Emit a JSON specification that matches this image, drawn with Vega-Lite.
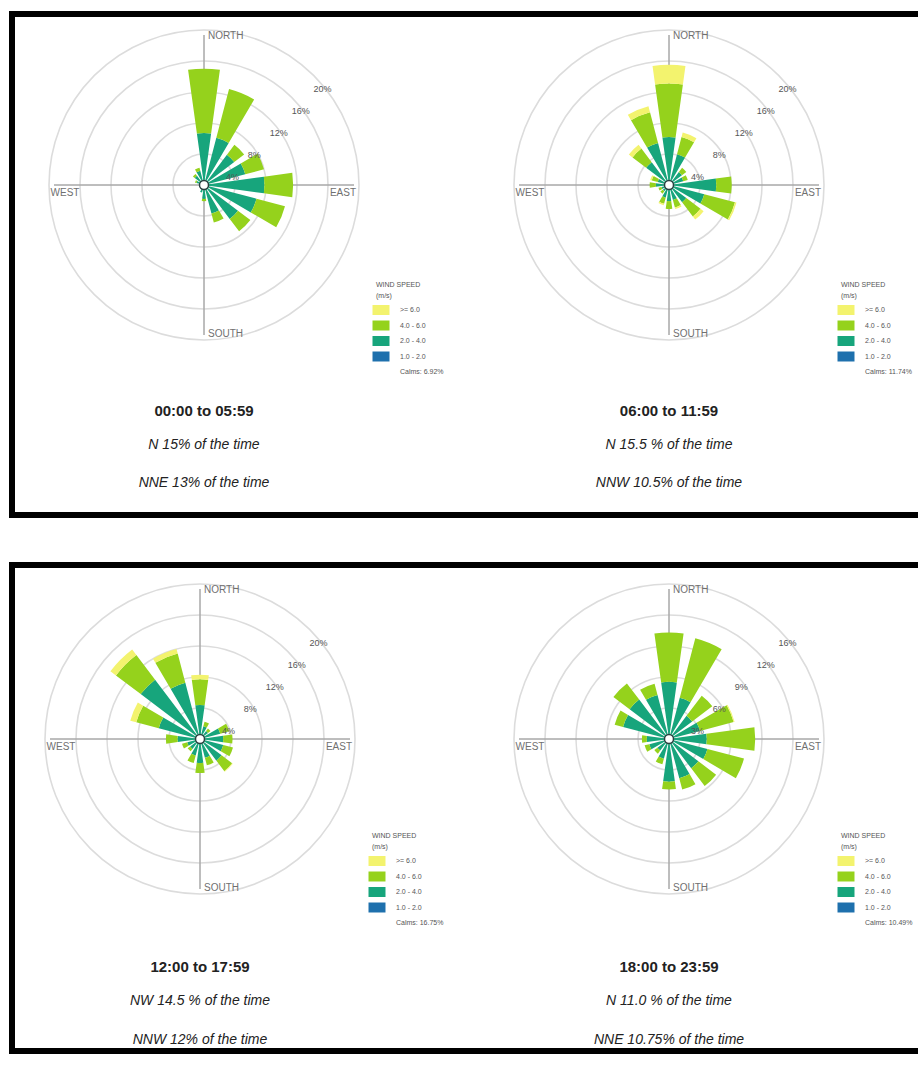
{
"$schema": "https://vega.github.io/schema/vega-lite/v6.json",
"background": "white",
"padding": {"left": 9, "top": 11, "right": 0, "bottom": 0},
"spacing": 44,
"datasets": {
"panels": [
{"p":"A","t":"00:00 to 05:59","sub":["N 15% of the time","NNE 13% of the time"]},
{"p":"B","t":"06:00 to 11:59","sub":["N 15.5 % of the time","NNW 10.5% of the time"]},
{"p":"C","t":"12:00 to 17:59","sub":["NW 14.5 % of the time","NNW 12% of the time"]},
{"p":"D","t":"18:00 to 23:59","sub":["N 11.0 % of the time","NNE 10.75% of the time"]}
],
"rings": [
{"p":"A","g":4,"lab":"4%"},{"p":"A","g":8,"lab":"8%"},{"p":"A","g":12,"lab":"12%"},{"p":"A","g":16,"lab":"16%"},{"p":"A","g":20,"lab":"20%"},
{"p":"B","g":4,"lab":"4%"},{"p":"B","g":8,"lab":"8%"},{"p":"B","g":12,"lab":"12%"},{"p":"B","g":16,"lab":"16%"},{"p":"B","g":20,"lab":"20%"},
{"p":"C","g":4,"lab":"4%"},{"p":"C","g":8,"lab":"8%"},{"p":"C","g":12,"lab":"12%"},{"p":"C","g":16,"lab":"16%"},{"p":"C","g":20,"lab":"20%"},
{"p":"D","g":3.2,"lab":"3%"},{"p":"D","g":6.4,"lab":"6%"},{"p":"D","g":9.6,"lab":"9%"},{"p":"D","g":12.8,"lab":"12%"},{"p":"D","g":16,"lab":"16%"}
],
"spokes": [
{"p":"A","deg":0,"name":"NORTH"},{"p":"A","deg":90,"name":"EAST"},{"p":"A","deg":180,"name":"SOUTH"},{"p":"A","deg":270,"name":"WEST"},
{"p":"B","deg":0,"name":"NORTH"},{"p":"B","deg":90,"name":"EAST"},{"p":"B","deg":180,"name":"SOUTH"},{"p":"B","deg":270,"name":"WEST"},
{"p":"C","deg":0,"name":"NORTH"},{"p":"C","deg":90,"name":"EAST"},{"p":"C","deg":180,"name":"SOUTH"},{"p":"C","deg":270,"name":"WEST"},
{"p":"D","deg":0,"name":"NORTH"},{"p":"D","deg":90,"name":"EAST"},{"p":"D","deg":180,"name":"SOUTH"},{"p":"D","deg":270,"name":"WEST"}
],
"wind": [
{"p":"A","d":"N","s":"1.0 - 2.0","v":0.3},{"p":"A","d":"N","s":"2.0 - 4.0","v":6.4},{"p":"A","d":"N","s":"4.0 - 6.0","v":8.3},
{"p":"A","d":"NNE","s":"1.0 - 2.0","v":0.3},{"p":"A","d":"NNE","s":"2.0 - 4.0","v":6.0},{"p":"A","d":"NNE","s":"4.0 - 6.0","v":6.5},
{"p":"A","d":"NE","s":"1.0 - 2.0","v":0.3},{"p":"A","d":"NE","s":"2.0 - 4.0","v":4.6},{"p":"A","d":"NE","s":"4.0 - 6.0","v":1.6},
{"p":"A","d":"ENE","s":"1.0 - 2.0","v":0.3},{"p":"A","d":"ENE","s":"2.0 - 4.0","v":5.2},{"p":"A","d":"ENE","s":"4.0 - 6.0","v":2.5},
{"p":"A","d":"E","s":"1.0 - 2.0","v":0.4},{"p":"A","d":"E","s":"2.0 - 4.0","v":7.4},{"p":"A","d":"E","s":"4.0 - 6.0","v":3.7},
{"p":"A","d":"ESE","s":"1.0 - 2.0","v":0.4},{"p":"A","d":"ESE","s":"2.0 - 4.0","v":6.6},{"p":"A","d":"ESE","s":"4.0 - 6.0","v":3.8},
{"p":"A","d":"SE","s":"1.0 - 2.0","v":0.3},{"p":"A","d":"SE","s":"2.0 - 4.0","v":5.2},{"p":"A","d":"SE","s":"4.0 - 6.0","v":2.0},
{"p":"A","d":"SSE","s":"1.0 - 2.0","v":0.3},{"p":"A","d":"SSE","s":"2.0 - 4.0","v":3.5},{"p":"A","d":"SSE","s":"4.0 - 6.0","v":1.2},
{"p":"A","d":"S","s":"1.0 - 2.0","v":0.3},{"p":"A","d":"S","s":"2.0 - 4.0","v":1.5},{"p":"A","d":"S","s":"4.0 - 6.0","v":0.3},
{"p":"A","d":"SSW","s":"1.0 - 2.0","v":0.2},{"p":"A","d":"SSW","s":"2.0 - 4.0","v":0.8},
{"p":"A","d":"SW","s":"1.0 - 2.0","v":0.2},{"p":"A","d":"SW","s":"2.0 - 4.0","v":0.4},
{"p":"A","d":"WSW","s":"1.0 - 2.0","v":0.2},{"p":"A","d":"WSW","s":"2.0 - 4.0","v":0.3},
{"p":"A","d":"W","s":"1.0 - 2.0","v":0.2},{"p":"A","d":"W","s":"2.0 - 4.0","v":0.4},
{"p":"A","d":"WNW","s":"1.0 - 2.0","v":0.2},{"p":"A","d":"WNW","s":"2.0 - 4.0","v":0.8},{"p":"A","d":"WNW","s":"4.0 - 6.0","v":0.2},
{"p":"A","d":"NW","s":"1.0 - 2.0","v":0.3},{"p":"A","d":"NW","s":"2.0 - 4.0","v":1.2},{"p":"A","d":"NW","s":"4.0 - 6.0","v":0.3},
{"p":"A","d":"NNW","s":"1.0 - 2.0","v":0.3},{"p":"A","d":"NNW","s":"2.0 - 4.0","v":1.6},{"p":"A","d":"NNW","s":"4.0 - 6.0","v":0.4},

{"p":"B","d":"N","s":"1.0 - 2.0","v":0.3},{"p":"B","d":"N","s":"2.0 - 4.0","v":5.9},{"p":"B","d":"N","s":"4.0 - 6.0","v":6.9},{"p":"B","d":"N","s":">= 6.0","v":2.4},
{"p":"B","d":"NNE","s":"1.0 - 2.0","v":0.3},{"p":"B","d":"NNE","s":"2.0 - 4.0","v":3.8},{"p":"B","d":"NNE","s":"4.0 - 6.0","v":2.3},{"p":"B","d":"NNE","s":">= 6.0","v":0.6},
{"p":"B","d":"NE","s":"1.0 - 2.0","v":0.3},{"p":"B","d":"NE","s":"2.0 - 4.0","v":1.8},{"p":"B","d":"NE","s":"4.0 - 6.0","v":0.7},
{"p":"B","d":"ENE","s":"1.0 - 2.0","v":0.3},{"p":"B","d":"ENE","s":"2.0 - 4.0","v":1.6},{"p":"B","d":"ENE","s":"4.0 - 6.0","v":0.6},
{"p":"B","d":"E","s":"1.0 - 2.0","v":0.3},{"p":"B","d":"E","s":"2.0 - 4.0","v":5.8},{"p":"B","d":"E","s":"4.0 - 6.0","v":2.0},
{"p":"B","d":"ESE","s":"1.0 - 2.0","v":0.3},{"p":"B","d":"ESE","s":"2.0 - 4.0","v":4.4},{"p":"B","d":"ESE","s":"4.0 - 6.0","v":4.1},{"p":"B","d":"ESE","s":">= 6.0","v":0.2},
{"p":"B","d":"SE","s":"1.0 - 2.0","v":0.3},{"p":"B","d":"SE","s":"2.0 - 4.0","v":2.5},{"p":"B","d":"SE","s":"4.0 - 6.0","v":2.3},{"p":"B","d":"SE","s":">= 6.0","v":0.5},
{"p":"B","d":"SSE","s":"1.0 - 2.0","v":0.3},{"p":"B","d":"SSE","s":"2.0 - 4.0","v":1.7},{"p":"B","d":"SSE","s":"4.0 - 6.0","v":1.0},{"p":"B","d":"SSE","s":">= 6.0","v":0.2},
{"p":"B","d":"S","s":"1.0 - 2.0","v":0.3},{"p":"B","d":"S","s":"2.0 - 4.0","v":1.8},{"p":"B","d":"S","s":"4.0 - 6.0","v":1.0},
{"p":"B","d":"SSW","s":"1.0 - 2.0","v":0.3},{"p":"B","d":"SSW","s":"2.0 - 4.0","v":1.4},{"p":"B","d":"SSW","s":"4.0 - 6.0","v":0.8},{"p":"B","d":"SSW","s":">= 6.0","v":0.2},
{"p":"B","d":"SW","s":"1.0 - 2.0","v":0.2},{"p":"B","d":"SW","s":"2.0 - 4.0","v":0.8},{"p":"B","d":"SW","s":"4.0 - 6.0","v":0.4},
{"p":"B","d":"WSW","s":"1.0 - 2.0","v":0.2},{"p":"B","d":"WSW","s":"2.0 - 4.0","v":0.8},{"p":"B","d":"WSW","s":"4.0 - 6.0","v":0.4},
{"p":"B","d":"W","s":"1.0 - 2.0","v":0.3},{"p":"B","d":"W","s":"2.0 - 4.0","v":1.4},{"p":"B","d":"W","s":"4.0 - 6.0","v":0.8},
{"p":"B","d":"WNW","s":"1.0 - 2.0","v":0.3},{"p":"B","d":"WNW","s":"2.0 - 4.0","v":1.2},{"p":"B","d":"WNW","s":"4.0 - 6.0","v":0.8},{"p":"B","d":"WNW","s":">= 6.0","v":0.2},
{"p":"B","d":"NW","s":"1.0 - 2.0","v":0.3},{"p":"B","d":"NW","s":"2.0 - 4.0","v":3.4},{"p":"B","d":"NW","s":"4.0 - 6.0","v":2.2},{"p":"B","d":"NW","s":">= 6.0","v":0.6},
{"p":"B","d":"NNW","s":"1.0 - 2.0","v":0.3},{"p":"B","d":"NNW","s":"2.0 - 4.0","v":5.3},{"p":"B","d":"NNW","s":"4.0 - 6.0","v":4.1},{"p":"B","d":"NNW","s":">= 6.0","v":0.8},

{"p":"C","d":"N","s":"1.0 - 2.0","v":0.3},{"p":"C","d":"N","s":"2.0 - 4.0","v":4.1},{"p":"C","d":"N","s":"4.0 - 6.0","v":3.3},{"p":"C","d":"N","s":">= 6.0","v":0.6},
{"p":"C","d":"NNE","s":"1.0 - 2.0","v":0.3},{"p":"C","d":"NNE","s":"2.0 - 4.0","v":1.4},{"p":"C","d":"NNE","s":"4.0 - 6.0","v":0.6},
{"p":"C","d":"NE","s":"1.0 - 2.0","v":0.3},{"p":"C","d":"NE","s":"2.0 - 4.0","v":1.0},{"p":"C","d":"NE","s":"4.0 - 6.0","v":0.4},
{"p":"C","d":"ENE","s":"1.0 - 2.0","v":0.3},{"p":"C","d":"ENE","s":"2.0 - 4.0","v":2.4},{"p":"C","d":"ENE","s":"4.0 - 6.0","v":1.2},
{"p":"C","d":"E","s":"1.0 - 2.0","v":0.3},{"p":"C","d":"E","s":"2.0 - 4.0","v":2.7},{"p":"C","d":"E","s":"4.0 - 6.0","v":1.2},
{"p":"C","d":"ESE","s":"1.0 - 2.0","v":0.3},{"p":"C","d":"ESE","s":"2.0 - 4.0","v":2.8},{"p":"C","d":"ESE","s":"4.0 - 6.0","v":1.3},
{"p":"C","d":"SE","s":"1.0 - 2.0","v":0.3},{"p":"C","d":"SE","s":"2.0 - 4.0","v":3.2},{"p":"C","d":"SE","s":"4.0 - 6.0","v":1.7},{"p":"C","d":"SE","s":">= 6.0","v":0.1},
{"p":"C","d":"SSE","s":"1.0 - 2.0","v":0.3},{"p":"C","d":"SSE","s":"2.0 - 4.0","v":2.2},{"p":"C","d":"SSE","s":"4.0 - 6.0","v":1.0},
{"p":"C","d":"S","s":"1.0 - 2.0","v":0.3},{"p":"C","d":"S","s":"2.0 - 4.0","v":2.8},{"p":"C","d":"S","s":"4.0 - 6.0","v":1.3},
{"p":"C","d":"SSW","s":"1.0 - 2.0","v":0.3},{"p":"C","d":"SSW","s":"2.0 - 4.0","v":1.9},{"p":"C","d":"SSW","s":"4.0 - 6.0","v":1.0},
{"p":"C","d":"SW","s":"1.0 - 2.0","v":0.3},{"p":"C","d":"SW","s":"2.0 - 4.0","v":1.3},{"p":"C","d":"SW","s":"4.0 - 6.0","v":0.4},
{"p":"C","d":"WSW","s":"1.0 - 2.0","v":0.3},{"p":"C","d":"WSW","s":"2.0 - 4.0","v":1.4},{"p":"C","d":"WSW","s":"4.0 - 6.0","v":0.7},
{"p":"C","d":"W","s":"1.0 - 2.0","v":0.3},{"p":"C","d":"W","s":"2.0 - 4.0","v":2.6},{"p":"C","d":"W","s":"4.0 - 6.0","v":1.5},
{"p":"C","d":"WNW","s":"1.0 - 2.0","v":0.3},{"p":"C","d":"WNW","s":"2.0 - 4.0","v":5.2},{"p":"C","d":"WNW","s":"4.0 - 6.0","v":3.0},{"p":"C","d":"WNW","s":">= 6.0","v":0.8},
{"p":"C","d":"NW","s":"1.0 - 2.0","v":0.3},{"p":"C","d":"NW","s":"2.0 - 4.0","v":9.3},{"p":"C","d":"NW","s":"4.0 - 6.0","v":4.0},{"p":"C","d":"NW","s":">= 6.0","v":0.9},
{"p":"C","d":"NNW","s":"1.0 - 2.0","v":0.3},{"p":"C","d":"NNW","s":"2.0 - 4.0","v":7.2},{"p":"C","d":"NNW","s":"4.0 - 6.0","v":3.9},{"p":"C","d":"NNW","s":">= 6.0","v":0.6},

{"p":"D","d":"N","s":"1.0 - 2.0","v":0.3},{"p":"D","d":"N","s":"2.0 - 4.0","v":5.6},{"p":"D","d":"N","s":"4.0 - 6.0","v":5.1},
{"p":"D","d":"NNE","s":"1.0 - 2.0","v":0.3},{"p":"D","d":"NNE","s":"2.0 - 4.0","v":4.1},{"p":"D","d":"NNE","s":"4.0 - 6.0","v":6.35},
{"p":"D","d":"NE","s":"1.0 - 2.0","v":0.3},{"p":"D","d":"NE","s":"2.0 - 4.0","v":2.7},{"p":"D","d":"NE","s":"4.0 - 6.0","v":2.6},
{"p":"D","d":"ENE","s":"1.0 - 2.0","v":0.3},{"p":"D","d":"ENE","s":"2.0 - 4.0","v":3.0},{"p":"D","d":"ENE","s":"4.0 - 6.0","v":3.6},{"p":"D","d":"ENE","s":">= 6.0","v":0.1},
{"p":"D","d":"E","s":"1.0 - 2.0","v":0.3},{"p":"D","d":"E","s":"2.0 - 4.0","v":3.6},{"p":"D","d":"E","s":"4.0 - 6.0","v":5.0},
{"p":"D","d":"ESE","s":"1.0 - 2.0","v":0.3},{"p":"D","d":"ESE","s":"2.0 - 4.0","v":3.8},{"p":"D","d":"ESE","s":"4.0 - 6.0","v":3.9},
{"p":"D","d":"SE","s":"1.0 - 2.0","v":0.3},{"p":"D","d":"SE","s":"2.0 - 4.0","v":3.5},{"p":"D","d":"SE","s":"4.0 - 6.0","v":2.3},
{"p":"D","d":"SSE","s":"1.0 - 2.0","v":0.3},{"p":"D","d":"SSE","s":"2.0 - 4.0","v":3.9},{"p":"D","d":"SSE","s":"4.0 - 6.0","v":1.2},
{"p":"D","d":"S","s":"1.0 - 2.0","v":0.3},{"p":"D","d":"S","s":"2.0 - 4.0","v":4.1},{"p":"D","d":"S","s":"4.0 - 6.0","v":0.8},
{"p":"D","d":"SSW","s":"1.0 - 2.0","v":0.3},{"p":"D","d":"SSW","s":"2.0 - 4.0","v":1.8},{"p":"D","d":"SSW","s":"4.0 - 6.0","v":0.6},
{"p":"D","d":"SW","s":"1.0 - 2.0","v":0.3},{"p":"D","d":"SW","s":"2.0 - 4.0","v":1.2},{"p":"D","d":"SW","s":"4.0 - 6.0","v":0.4},
{"p":"D","d":"WSW","s":"1.0 - 2.0","v":0.3},{"p":"D","d":"WSW","s":"2.0 - 4.0","v":1.8},{"p":"D","d":"WSW","s":"4.0 - 6.0","v":0.5},
{"p":"D","d":"W","s":"1.0 - 2.0","v":0.3},{"p":"D","d":"W","s":"2.0 - 4.0","v":2.0},{"p":"D","d":"W","s":"4.0 - 6.0","v":0.5},
{"p":"D","d":"WNW","s":"1.0 - 2.0","v":0.3},{"p":"D","d":"WNW","s":"2.0 - 4.0","v":4.6},{"p":"D","d":"WNW","s":"4.0 - 6.0","v":0.9},
{"p":"D","d":"NW","s":"1.0 - 2.0","v":0.3},{"p":"D","d":"NW","s":"2.0 - 4.0","v":4.8},{"p":"D","d":"NW","s":"4.0 - 6.0","v":2.1},
{"p":"D","d":"NNW","s":"1.0 - 2.0","v":0.3},{"p":"D","d":"NNW","s":"2.0 - 4.0","v":4.4},{"p":"D","d":"NNW","s":"4.0 - 6.0","v":1.2}
]
},
"vconcat": [
{
"width": 915, "height": 501,
"layer": [
{
"layer": [
{"data":{"name":"rings"},"transform":[{"filter":"datum.p=='A'"}],
 "mark":{"type":"arc","theta":0,"theta2":6.2832,"fill":"#ffffff","fillOpacity":0,"stroke":"#dcdcdc","strokeWidth":1.6},
 "encoding":{"x":{"field":"p","type":"nominal","scale":{"type":"point","domain":["A","B"],"range":[192,657],"padding":0},"axis":null},
  "y":{"datum":"c","type":"nominal","scale":{"type":"point","domain":["c","t"],"range":[171,397],"padding":0},"axis":null},
  "radius":{"field":"g","type":"quantitative","stack":null,"scale":{"type":"linear","domain":[0,20],"range":[0,155],"nice":false}}}},
{"data":{"name":"spokes"},"transform":[{"filter":"datum.p=='A'"}],
 "mark":{"type":"arc","radius":150,"fill":"#ffffff","fillOpacity":0,"stroke":"#a8a8a8","strokeWidth":1},
 "encoding":{"x":{"field":"p","type":"nominal","scale":{"type":"point","domain":["A","B"],"range":[192,657],"padding":0},"axis":null},
  "y":{"datum":"c","type":"nominal","scale":{"type":"point","domain":["c","t"],"range":[171,397],"padding":0},"axis":null},
  "theta":{"field":"deg","type":"quantitative","stack":null,"scale":{"type":"linear","domain":[0,360],"range":[0,6.283185],"nice":false,"zero":false}},
  "theta2":{"field":"deg"}}},
{"data":{"name":"wind"},"transform":[{"filter":"datum.p=='A'"},{"stack":"v","groupby":["d"],"sort":[{"field":"s","order":"ascending"}],"as":["r0","r1"]}],
 "mark":{"type":"arc"},
 "encoding":{"x":{"field":"p","type":"nominal","scale":{"type":"point","domain":["A","B"],"range":[192,657],"padding":0},"axis":null},
  "y":{"datum":"c","type":"nominal","scale":{"type":"point","domain":["c","t"],"range":[171,397],"padding":0},"axis":null},
  "theta":{"field":"d","type":"nominal","scale":{"type":"band","domain":["N","NNE","NE","ENE","E","ESE","SE","SSE","S","SSW","SW","WSW","W","WNW","NW","NNW"],"range":[-0.19635,6.08684],"paddingInner":0.3,"paddingOuter":0.15}},
  "radius":{"field":"r1","type":"quantitative","stack":null,"scale":{"type":"linear","domain":[0,20],"range":[0,155],"nice":false}},
  "radius2":{"field":"r0"},
  "color":{"field":"s","type":"nominal","scale":{"domain":[">= 6.0","4.0 - 6.0","2.0 - 4.0","1.0 - 2.0","Calms: 6.92%"],"range":["#f3f36e","#95d21c","#17a57c","#1e70ad","#ffffff"]},
   "legend":{"orient":"none","legendX":364,"legendY":267,"title":["WIND SPEED","(m/s)"]}}}},
{"data":{"name":"panels"},"transform":[{"filter":"datum.p=='A'"}],
 "mark":{"type":"arc","radius":4.5,"theta":0,"theta2":6.2832,"fill":"#ffffff","stroke":"#2a4040","strokeWidth":1.5},
 "encoding":{"x":{"field":"p","type":"nominal","scale":{"type":"point","domain":["A","B"],"range":[192,657],"padding":0},"axis":null},
  "y":{"datum":"c","type":"nominal","scale":{"type":"point","domain":["c","t"],"range":[171,397],"padding":0},"axis":null}}},
{"data":{"name":"spokes"},"transform":[{"filter":"datum.p=='A' && (datum.deg==0 || datum.deg==180)"}],
 "mark":{"type":"text","align":"left","baseline":"middle","dx":4,"radius":149,"fontSize":10,"font":"Liberation Sans","fill":"#707070"},
 "encoding":{"x":{"field":"p","type":"nominal","scale":{"type":"point","domain":["A","B"],"range":[192,657],"padding":0},"axis":null},
  "y":{"datum":"c","type":"nominal","scale":{"type":"point","domain":["c","t"],"range":[171,397],"padding":0},"axis":null},
  "theta":{"field":"deg","type":"quantitative","stack":null,"scale":{"type":"linear","domain":[0,360],"range":[0,6.283185],"nice":false,"zero":false}},
  "text":{"field":"name"}}},
{"data":{"name":"spokes"},"transform":[{"filter":"datum.p=='A' && (datum.deg==90 || datum.deg==270)"}],
 "mark":{"type":"text","align":"center","baseline":"middle","dy":8,"radius":139,"fontSize":10,"font":"Liberation Sans","fill":"#707070"},
 "encoding":{"x":{"field":"p","type":"nominal","scale":{"type":"point","domain":["A","B"],"range":[192,657],"padding":0},"axis":null},
  "y":{"datum":"c","type":"nominal","scale":{"type":"point","domain":["c","t"],"range":[171,397],"padding":0},"axis":null},
  "theta":{"field":"deg","type":"quantitative","stack":null,"scale":{"type":"linear","domain":[0,360],"range":[0,6.283185],"nice":false,"zero":false}},
  "text":{"field":"name"}}},
{"data":{"name":"rings"},"transform":[{"filter":"datum.p=='A'"}],
 "mark":{"type":"text","align":"left","baseline":"middle","theta":0.7854,"dy":14,"fontSize":9,"font":"Liberation Sans","fill":"#555555"},
 "encoding":{"x":{"field":"p","type":"nominal","scale":{"type":"point","domain":["A","B"],"range":[192,657],"padding":0},"axis":null},
  "y":{"datum":"c","type":"nominal","scale":{"type":"point","domain":["c","t"],"range":[171,397],"padding":0},"axis":null},
  "radius":{"field":"g","type":"quantitative","stack":null,"scale":{"type":"linear","domain":[0,20],"range":[0,155],"nice":false}},
  "text":{"field":"lab"}}}
],
"resolve":{"scale":{"theta":"independent"}}
},
{
"layer": [
{"data":{"name":"rings"},"transform":[{"filter":"datum.p=='B'"}],
 "mark":{"type":"arc","theta":0,"theta2":6.2832,"fill":"#ffffff","fillOpacity":0,"stroke":"#dcdcdc","strokeWidth":1.6},
 "encoding":{"x":{"field":"p","type":"nominal","scale":{"type":"point","domain":["A","B"],"range":[192,657],"padding":0},"axis":null},
  "y":{"datum":"c","type":"nominal","scale":{"type":"point","domain":["c","t"],"range":[171,397],"padding":0},"axis":null},
  "radius":{"field":"g","type":"quantitative","stack":null,"scale":{"type":"linear","domain":[0,20],"range":[0,155],"nice":false}}}},
{"data":{"name":"spokes"},"transform":[{"filter":"datum.p=='B'"}],
 "mark":{"type":"arc","radius":150,"fill":"#ffffff","fillOpacity":0,"stroke":"#a8a8a8","strokeWidth":1},
 "encoding":{"x":{"field":"p","type":"nominal","scale":{"type":"point","domain":["A","B"],"range":[192,657],"padding":0},"axis":null},
  "y":{"datum":"c","type":"nominal","scale":{"type":"point","domain":["c","t"],"range":[171,397],"padding":0},"axis":null},
  "theta":{"field":"deg","type":"quantitative","stack":null,"scale":{"type":"linear","domain":[0,360],"range":[0,6.283185],"nice":false,"zero":false}},
  "theta2":{"field":"deg"}}},
{"data":{"name":"wind"},"transform":[{"filter":"datum.p=='B'"},{"stack":"v","groupby":["d"],"sort":[{"field":"s","order":"ascending"}],"as":["r0","r1"]}],
 "mark":{"type":"arc"},
 "encoding":{"x":{"field":"p","type":"nominal","scale":{"type":"point","domain":["A","B"],"range":[192,657],"padding":0},"axis":null},
  "y":{"datum":"c","type":"nominal","scale":{"type":"point","domain":["c","t"],"range":[171,397],"padding":0},"axis":null},
  "theta":{"field":"d","type":"nominal","scale":{"type":"band","domain":["N","NNE","NE","ENE","E","ESE","SE","SSE","S","SSW","SW","WSW","W","WNW","NW","NNW"],"range":[-0.19635,6.08684],"paddingInner":0.3,"paddingOuter":0.15}},
  "radius":{"field":"r1","type":"quantitative","stack":null,"scale":{"type":"linear","domain":[0,20],"range":[0,155],"nice":false}},
  "radius2":{"field":"r0"},
  "color":{"field":"s","type":"nominal","scale":{"domain":[">= 6.0","4.0 - 6.0","2.0 - 4.0","1.0 - 2.0","Calms: 11.74%"],"range":["#f3f36e","#95d21c","#17a57c","#1e70ad","#ffffff"]},
   "legend":{"orient":"none","legendX":829,"legendY":267,"title":["WIND SPEED","(m/s)"]}}}},
{"data":{"name":"panels"},"transform":[{"filter":"datum.p=='B'"}],
 "mark":{"type":"arc","radius":4.5,"theta":0,"theta2":6.2832,"fill":"#ffffff","stroke":"#2a4040","strokeWidth":1.5},
 "encoding":{"x":{"field":"p","type":"nominal","scale":{"type":"point","domain":["A","B"],"range":[192,657],"padding":0},"axis":null},
  "y":{"datum":"c","type":"nominal","scale":{"type":"point","domain":["c","t"],"range":[171,397],"padding":0},"axis":null}}},
{"data":{"name":"spokes"},"transform":[{"filter":"datum.p=='B' && (datum.deg==0 || datum.deg==180)"}],
 "mark":{"type":"text","align":"left","baseline":"middle","dx":4,"radius":149,"fontSize":10,"font":"Liberation Sans","fill":"#707070"},
 "encoding":{"x":{"field":"p","type":"nominal","scale":{"type":"point","domain":["A","B"],"range":[192,657],"padding":0},"axis":null},
  "y":{"datum":"c","type":"nominal","scale":{"type":"point","domain":["c","t"],"range":[171,397],"padding":0},"axis":null},
  "theta":{"field":"deg","type":"quantitative","stack":null,"scale":{"type":"linear","domain":[0,360],"range":[0,6.283185],"nice":false,"zero":false}},
  "text":{"field":"name"}}},
{"data":{"name":"spokes"},"transform":[{"filter":"datum.p=='B' && (datum.deg==90 || datum.deg==270)"}],
 "mark":{"type":"text","align":"center","baseline":"middle","dy":8,"radius":139,"fontSize":10,"font":"Liberation Sans","fill":"#707070"},
 "encoding":{"x":{"field":"p","type":"nominal","scale":{"type":"point","domain":["A","B"],"range":[192,657],"padding":0},"axis":null},
  "y":{"datum":"c","type":"nominal","scale":{"type":"point","domain":["c","t"],"range":[171,397],"padding":0},"axis":null},
  "theta":{"field":"deg","type":"quantitative","stack":null,"scale":{"type":"linear","domain":[0,360],"range":[0,6.283185],"nice":false,"zero":false}},
  "text":{"field":"name"}}},
{"data":{"name":"rings"},"transform":[{"filter":"datum.p=='B'"}],
 "mark":{"type":"text","align":"left","baseline":"middle","theta":0.7854,"dy":14,"fontSize":9,"font":"Liberation Sans","fill":"#555555"},
 "encoding":{"x":{"field":"p","type":"nominal","scale":{"type":"point","domain":["A","B"],"range":[192,657],"padding":0},"axis":null},
  "y":{"datum":"c","type":"nominal","scale":{"type":"point","domain":["c","t"],"range":[171,397],"padding":0},"axis":null},
  "radius":{"field":"g","type":"quantitative","stack":null,"scale":{"type":"linear","domain":[0,20],"range":[0,155],"nice":false}},
  "text":{"field":"lab"}}}
],
"resolve":{"scale":{"theta":"independent"}}
},
{"data":{"name":"panels"},"transform":[{"filter":"datum.p=='A' || datum.p=='B'"}],
 "mark":{"type":"text","fontSize":15,"fontWeight":"bold","font":"Liberation Sans","fill":"#222222","baseline":"middle"},
 "encoding":{"x":{"field":"p","type":"nominal","scale":{"type":"point","domain":["A","B"],"range":[192,657],"padding":0},"axis":null},
  "y":{"datum":"t","type":"nominal","scale":{"type":"point","domain":["c","t"],"range":[171,397],"padding":0},"axis":null},
  "text":{"field":"t"}}},
{"data":{"name":"panels"},"transform":[{"filter":"datum.p=='A' || datum.p=='B'"}],
 "mark":{"type":"text","fontSize":14,"fontStyle":"italic","font":"Liberation Sans","fill":"#222222","baseline":"top","dy":27,"lineHeight":38},
 "encoding":{"x":{"field":"p","type":"nominal","scale":{"type":"point","domain":["A","B"],"range":[192,657],"padding":0},"axis":null},
  "y":{"datum":"t","type":"nominal","scale":{"type":"point","domain":["c","t"],"range":[171,397],"padding":0},"axis":null},
  "text":{"field":"sub"}}}
],
"resolve":{"scale":{"radius":"independent","color":"independent","theta":"independent"},"legend":{"color":"independent"}}
},
{
"width": 915, "height": 486,
"layer": [
{
"layer": [
{"data":{"name":"rings"},"transform":[{"filter":"datum.p=='C'"}],
 "mark":{"type":"arc","theta":0,"theta2":6.2832,"fill":"#ffffff","fillOpacity":0,"stroke":"#dcdcdc","strokeWidth":1.6},
 "encoding":{"x":{"field":"p","type":"nominal","scale":{"type":"point","domain":["C","D"],"range":[188,657],"padding":0},"axis":null},
  "y":{"datum":"c","type":"nominal","scale":{"type":"point","domain":["c","t"],"range":[174,402],"padding":0},"axis":null},
  "radius":{"field":"g","type":"quantitative","stack":null,"scale":{"type":"linear","domain":[0,20],"range":[0,155],"nice":false}}}},
{"data":{"name":"spokes"},"transform":[{"filter":"datum.p=='C'"}],
 "mark":{"type":"arc","radius":150,"fill":"#ffffff","fillOpacity":0,"stroke":"#a8a8a8","strokeWidth":1},
 "encoding":{"x":{"field":"p","type":"nominal","scale":{"type":"point","domain":["C","D"],"range":[188,657],"padding":0},"axis":null},
  "y":{"datum":"c","type":"nominal","scale":{"type":"point","domain":["c","t"],"range":[174,402],"padding":0},"axis":null},
  "theta":{"field":"deg","type":"quantitative","stack":null,"scale":{"type":"linear","domain":[0,360],"range":[0,6.283185],"nice":false,"zero":false}},
  "theta2":{"field":"deg"}}},
{"data":{"name":"wind"},"transform":[{"filter":"datum.p=='C'"},{"stack":"v","groupby":["d"],"sort":[{"field":"s","order":"ascending"}],"as":["r0","r1"]}],
 "mark":{"type":"arc"},
 "encoding":{"x":{"field":"p","type":"nominal","scale":{"type":"point","domain":["C","D"],"range":[188,657],"padding":0},"axis":null},
  "y":{"datum":"c","type":"nominal","scale":{"type":"point","domain":["c","t"],"range":[174,402],"padding":0},"axis":null},
  "theta":{"field":"d","type":"nominal","scale":{"type":"band","domain":["N","NNE","NE","ENE","E","ESE","SE","SSE","S","SSW","SW","WSW","W","WNW","NW","NNW"],"range":[-0.19635,6.08684],"paddingInner":0.3,"paddingOuter":0.15}},
  "radius":{"field":"r1","type":"quantitative","stack":null,"scale":{"type":"linear","domain":[0,20],"range":[0,155],"nice":false}},
  "radius2":{"field":"r0"},
  "color":{"field":"s","type":"nominal","scale":{"domain":[">= 6.0","4.0 - 6.0","2.0 - 4.0","1.0 - 2.0","Calms: 16.75%"],"range":["#f3f36e","#95d21c","#17a57c","#1e70ad","#ffffff"]},
   "legend":{"orient":"none","legendX":360,"legendY":267,"title":["WIND SPEED","(m/s)"]}}}},
{"data":{"name":"panels"},"transform":[{"filter":"datum.p=='C'"}],
 "mark":{"type":"arc","radius":4.5,"theta":0,"theta2":6.2832,"fill":"#ffffff","stroke":"#2a4040","strokeWidth":1.5},
 "encoding":{"x":{"field":"p","type":"nominal","scale":{"type":"point","domain":["C","D"],"range":[188,657],"padding":0},"axis":null},
  "y":{"datum":"c","type":"nominal","scale":{"type":"point","domain":["c","t"],"range":[174,402],"padding":0},"axis":null}}},
{"data":{"name":"spokes"},"transform":[{"filter":"datum.p=='C' && (datum.deg==0 || datum.deg==180)"}],
 "mark":{"type":"text","align":"left","baseline":"middle","dx":4,"radius":149,"fontSize":10,"font":"Liberation Sans","fill":"#707070"},
 "encoding":{"x":{"field":"p","type":"nominal","scale":{"type":"point","domain":["C","D"],"range":[188,657],"padding":0},"axis":null},
  "y":{"datum":"c","type":"nominal","scale":{"type":"point","domain":["c","t"],"range":[174,402],"padding":0},"axis":null},
  "theta":{"field":"deg","type":"quantitative","stack":null,"scale":{"type":"linear","domain":[0,360],"range":[0,6.283185],"nice":false,"zero":false}},
  "text":{"field":"name"}}},
{"data":{"name":"spokes"},"transform":[{"filter":"datum.p=='C' && (datum.deg==90 || datum.deg==270)"}],
 "mark":{"type":"text","align":"center","baseline":"middle","dy":8,"radius":139,"fontSize":10,"font":"Liberation Sans","fill":"#707070"},
 "encoding":{"x":{"field":"p","type":"nominal","scale":{"type":"point","domain":["C","D"],"range":[188,657],"padding":0},"axis":null},
  "y":{"datum":"c","type":"nominal","scale":{"type":"point","domain":["c","t"],"range":[174,402],"padding":0},"axis":null},
  "theta":{"field":"deg","type":"quantitative","stack":null,"scale":{"type":"linear","domain":[0,360],"range":[0,6.283185],"nice":false,"zero":false}},
  "text":{"field":"name"}}},
{"data":{"name":"rings"},"transform":[{"filter":"datum.p=='C'"}],
 "mark":{"type":"text","align":"left","baseline":"middle","theta":0.7854,"dy":14,"fontSize":9,"font":"Liberation Sans","fill":"#555555"},
 "encoding":{"x":{"field":"p","type":"nominal","scale":{"type":"point","domain":["C","D"],"range":[188,657],"padding":0},"axis":null},
  "y":{"datum":"c","type":"nominal","scale":{"type":"point","domain":["c","t"],"range":[174,402],"padding":0},"axis":null},
  "radius":{"field":"g","type":"quantitative","stack":null,"scale":{"type":"linear","domain":[0,20],"range":[0,155],"nice":false}},
  "text":{"field":"lab"}}}
],
"resolve":{"scale":{"theta":"independent"}}
},
{
"layer": [
{"data":{"name":"rings"},"transform":[{"filter":"datum.p=='D'"}],
 "mark":{"type":"arc","theta":0,"theta2":6.2832,"fill":"#ffffff","fillOpacity":0,"stroke":"#dcdcdc","strokeWidth":1.6},
 "encoding":{"x":{"field":"p","type":"nominal","scale":{"type":"point","domain":["C","D"],"range":[188,657],"padding":0},"axis":null},
  "y":{"datum":"c","type":"nominal","scale":{"type":"point","domain":["c","t"],"range":[174,402],"padding":0},"axis":null},
  "radius":{"field":"g","type":"quantitative","stack":null,"scale":{"type":"linear","domain":[0,16],"range":[0,155],"nice":false}}}},
{"data":{"name":"spokes"},"transform":[{"filter":"datum.p=='D'"}],
 "mark":{"type":"arc","radius":150,"fill":"#ffffff","fillOpacity":0,"stroke":"#a8a8a8","strokeWidth":1},
 "encoding":{"x":{"field":"p","type":"nominal","scale":{"type":"point","domain":["C","D"],"range":[188,657],"padding":0},"axis":null},
  "y":{"datum":"c","type":"nominal","scale":{"type":"point","domain":["c","t"],"range":[174,402],"padding":0},"axis":null},
  "theta":{"field":"deg","type":"quantitative","stack":null,"scale":{"type":"linear","domain":[0,360],"range":[0,6.283185],"nice":false,"zero":false}},
  "theta2":{"field":"deg"}}},
{"data":{"name":"wind"},"transform":[{"filter":"datum.p=='D'"},{"stack":"v","groupby":["d"],"sort":[{"field":"s","order":"ascending"}],"as":["r0","r1"]}],
 "mark":{"type":"arc"},
 "encoding":{"x":{"field":"p","type":"nominal","scale":{"type":"point","domain":["C","D"],"range":[188,657],"padding":0},"axis":null},
  "y":{"datum":"c","type":"nominal","scale":{"type":"point","domain":["c","t"],"range":[174,402],"padding":0},"axis":null},
  "theta":{"field":"d","type":"nominal","scale":{"type":"band","domain":["N","NNE","NE","ENE","E","ESE","SE","SSE","S","SSW","SW","WSW","W","WNW","NW","NNW"],"range":[-0.19635,6.08684],"paddingInner":0.3,"paddingOuter":0.15}},
  "radius":{"field":"r1","type":"quantitative","stack":null,"scale":{"type":"linear","domain":[0,16],"range":[0,155],"nice":false}},
  "radius2":{"field":"r0"},
  "color":{"field":"s","type":"nominal","scale":{"domain":[">= 6.0","4.0 - 6.0","2.0 - 4.0","1.0 - 2.0","Calms: 10.49%"],"range":["#f3f36e","#95d21c","#17a57c","#1e70ad","#ffffff"]},
   "legend":{"orient":"none","legendX":829,"legendY":267,"title":["WIND SPEED","(m/s)"]}}}},
{"data":{"name":"panels"},"transform":[{"filter":"datum.p=='D'"}],
 "mark":{"type":"arc","radius":4.5,"theta":0,"theta2":6.2832,"fill":"#ffffff","stroke":"#2a4040","strokeWidth":1.5},
 "encoding":{"x":{"field":"p","type":"nominal","scale":{"type":"point","domain":["C","D"],"range":[188,657],"padding":0},"axis":null},
  "y":{"datum":"c","type":"nominal","scale":{"type":"point","domain":["c","t"],"range":[174,402],"padding":0},"axis":null}}},
{"data":{"name":"spokes"},"transform":[{"filter":"datum.p=='D' && (datum.deg==0 || datum.deg==180)"}],
 "mark":{"type":"text","align":"left","baseline":"middle","dx":4,"radius":149,"fontSize":10,"font":"Liberation Sans","fill":"#707070"},
 "encoding":{"x":{"field":"p","type":"nominal","scale":{"type":"point","domain":["C","D"],"range":[188,657],"padding":0},"axis":null},
  "y":{"datum":"c","type":"nominal","scale":{"type":"point","domain":["c","t"],"range":[174,402],"padding":0},"axis":null},
  "theta":{"field":"deg","type":"quantitative","stack":null,"scale":{"type":"linear","domain":[0,360],"range":[0,6.283185],"nice":false,"zero":false}},
  "text":{"field":"name"}}},
{"data":{"name":"spokes"},"transform":[{"filter":"datum.p=='D' && (datum.deg==90 || datum.deg==270)"}],
 "mark":{"type":"text","align":"center","baseline":"middle","dy":8,"radius":139,"fontSize":10,"font":"Liberation Sans","fill":"#707070"},
 "encoding":{"x":{"field":"p","type":"nominal","scale":{"type":"point","domain":["C","D"],"range":[188,657],"padding":0},"axis":null},
  "y":{"datum":"c","type":"nominal","scale":{"type":"point","domain":["c","t"],"range":[174,402],"padding":0},"axis":null},
  "theta":{"field":"deg","type":"quantitative","stack":null,"scale":{"type":"linear","domain":[0,360],"range":[0,6.283185],"nice":false,"zero":false}},
  "text":{"field":"name"}}},
{"data":{"name":"rings"},"transform":[{"filter":"datum.p=='D'"}],
 "mark":{"type":"text","align":"left","baseline":"middle","theta":0.7854,"dy":14,"fontSize":9,"font":"Liberation Sans","fill":"#555555"},
 "encoding":{"x":{"field":"p","type":"nominal","scale":{"type":"point","domain":["C","D"],"range":[188,657],"padding":0},"axis":null},
  "y":{"datum":"c","type":"nominal","scale":{"type":"point","domain":["c","t"],"range":[174,402],"padding":0},"axis":null},
  "radius":{"field":"g","type":"quantitative","stack":null,"scale":{"type":"linear","domain":[0,16],"range":[0,155],"nice":false}},
  "text":{"field":"lab"}}}
],
"resolve":{"scale":{"theta":"independent"}}
},
{"data":{"name":"panels"},"transform":[{"filter":"datum.p=='C' || datum.p=='D'"}],
 "mark":{"type":"text","fontSize":15,"fontWeight":"bold","font":"Liberation Sans","fill":"#222222","baseline":"middle"},
 "encoding":{"x":{"field":"p","type":"nominal","scale":{"type":"point","domain":["C","D"],"range":[188,657],"padding":0},"axis":null},
  "y":{"datum":"t","type":"nominal","scale":{"type":"point","domain":["c","t"],"range":[174,402],"padding":0},"axis":null},
  "text":{"field":"t"}}},
{"data":{"name":"panels"},"transform":[{"filter":"datum.p=='C' || datum.p=='D'"}],
 "mark":{"type":"text","fontSize":14,"fontStyle":"italic","font":"Liberation Sans","fill":"#222222","baseline":"top","dy":27,"lineHeight":39},
 "encoding":{"x":{"field":"p","type":"nominal","scale":{"type":"point","domain":["C","D"],"range":[188,657],"padding":0},"axis":null},
  "y":{"datum":"t","type":"nominal","scale":{"type":"point","domain":["c","t"],"range":[174,402],"padding":0},"axis":null},
  "text":{"field":"sub"}}}
],
"resolve":{"scale":{"radius":"independent","color":"independent","theta":"independent"},"legend":{"color":"independent"}}
}
],
"config": {
"view": {"stroke": "#000000", "strokeWidth": 6},
"legend": {"titleFontSize": 7, "titleFontWeight": "normal", "titleColor": "#555555", "titleFont": "Liberation Sans", "titleLineHeight": 11, "titlePadding": 6,
 "labelFontSize": 7, "labelColor": "#555555", "labelFont": "Liberation Sans", "symbolType": "M-1.7,-1H1.7V1H-1.7Z", "symbolSize": 100,
 "symbolStrokeWidth": 0, "symbolOpacity": 1, "rowPadding": 5.5, "labelOffset": 14, "padding": 0}
}
}
